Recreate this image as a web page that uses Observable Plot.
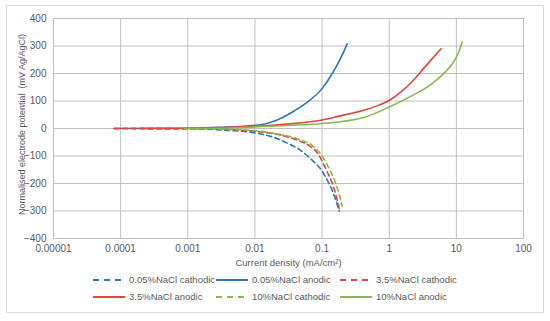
<!DOCTYPE html>
<html><head><meta charset="utf-8">
<script src="https://cdn.jsdelivr.net/npm/d3@7"></script>
<script src="https://cdn.jsdelivr.net/npm/@observablehq/plot@0.6"></script>
<style>
body{margin:0;background:#fff;font-family:"Liberation Sans",Arial,sans-serif;}
#wrap{position:relative;width:550px;height:321px;overflow:hidden;}
#border{position:absolute;left:6px;top:5px;width:536px;height:306px;border:1px solid #d9d9d9;}
#chart{position:absolute;left:0;top:0;}
.leg{position:absolute;display:flex;align-items:center;font-size:9.5px;color:#595959;white-space:nowrap;line-height:12px;}
.leg svg{margin-right:4px;}
</style></head><body>
<div id="wrap"><div id="border"></div><div id="chart"></div><div id="legend"></div></div>
<script>
// Series names and colours
const seriesNames = ["0.05%NaCl cathodic","0.05%NaCl anodic","3.5%NaCl cathodic","3.5%NaCl anodic","10%NaCl cathodic","10%NaCl anodic"];
const seriesColors = ["#2e75b6","#2e75b6","#e0463c","#e0463c","#86b84a","#86b84a"];
const seriesDashed = [true,false,true,false,true,false];

// Current density (mA/cm²) and potential (mV)
const c005X = [0.00008,0.001,0.004,0.01,0.0206,0.032,0.0457,0.064,0.1,0.127,0.155,0.18];
const c005Y = [0,-1,-7,-16,-35,-56,-76,-105,-155,-200,-250,-300];
const a005X = [0.00008,0.001,0.003,0.0117,0.0206,0.0363,0.0574,0.1,0.142,0.2,0.237];
const a005Y = [0,1,4,13,29,60,92,145,200,268,308];
const c35X = [0.00008,0.001,0.004,0.01,0.02,0.0457,0.064,0.0914,0.115,0.142,0.16,0.18];
const c35Y = [0,-1,-4,-10,-20,-45,-62,-100,-150,-200,-240,-293];
const a35X = [0.0002,0.001,0.004,0.01,0.03,0.1,0.179,0.444,0.7,1,1.5,2.18,3.43,5.93];
const a35Y = [0,1,4,8,16,31,45,68,85,102,133,170,225,290];
const c10X = [0.0009,0.004,0.01,0.02,0.0457,0.0717,0.1,0.13,0.16,0.18,0.2];
const c10Y = [0,-3,-8,-18,-40,-62,-100,-150,-200,-240,-282];
const a10X = [0.0009,0.004,0.01,0.03,0.1,0.444,1,2.06,4.3,6.8,9,10.5,12.2];
const a10Y = [0,2,6,11,18,42,78,116,162,205,240,270,314];

// Axis ticks
const xTicks = [0.00001,0.0001,0.001,0.01,0.1,1,10,100];
const xTickLabels = ["0.00001","0.0001","0.001","0.01","0.1","1","10","100"];
const yTicks = [-400,-300,-200,-100,0,100,200,300,400];
const xTitle = "Current density (mA/cm²)";
const yTitle = "Normalised electrode potential  (mV Ag/AgCl)";

const seriesX = [c005X,a005X,c35X,a35X,c10X,a10X];
const seriesY = [c005Y,a005Y,c35Y,a35Y,c10Y,a10Y];
const rows = [];
seriesNames.forEach((n,i)=>seriesX[i].forEach((x,j)=>rows.push({series:n,x,y:seriesY[i][j]})));

const lineMarks = seriesNames.map((n,i)=>Plot.line(rows.filter(r=>r.series===n),{
  x:"x",y:"y",stroke:seriesColors[i],strokeWidth:1.6,
  strokeDasharray:seriesDashed[i]?"5,3.5":null,curve:"monotone-x"}));

const chart = Plot.plot({
  width:550,height:272,
  marginLeft:53,marginRight:27,marginTop:18,marginBottom:34,
  style:{fontFamily:"'Liberation Sans', Arial, sans-serif",fontSize:"10px",color:"#595959",background:"transparent",overflow:"visible"},
  x:{type:"log",domain:[0.00001,100]},
  y:{domain:[-400,400]},
  marks:[
    Plot.gridX(xTicks,{stroke:"#bfbfbf",strokeOpacity:1}),
    Plot.gridY(yTicks,{stroke:"#bfbfbf",strokeOpacity:1}),
    Plot.frame({stroke:"#bfbfbf"}),
    Plot.axisX(xTicks,{tickSize:0,tickPadding:6,tickFormat:(d)=>xTickLabels[xTicks.indexOf(d)],label:null,fontSize:10,fill:"#595959"}),
    Plot.axisY(yTicks,{tickSize:0,tickPadding:7,label:null,fontSize:10,fill:"#595959"}),
    Plot.text([xTitle],{frameAnchor:"bottom",dy:27,fontSize:9.5,fill:"#595959"}),
    Plot.text([yTitle],{frameAnchor:"left",textAnchor:"middle",dx:-31,dy:-4,rotate:-90,fontSize:9,fill:"#595959"}),
    ...lineMarks
  ]
});
document.getElementById("chart").appendChild(chart);

// Legend
const legCols = [93,216,340];
const legRows = [280,297];
const legend = document.getElementById("legend");
seriesNames.forEach((n,i)=>{
  const d = document.createElement("div");
  d.className="leg";
  d.style.left = legCols[i%3]+"px";
  d.style.top = (legRows[Math.floor(i/3)]-6)+"px";
  d.innerHTML = `<svg width="32" height="6"><line x1="0" x2="32" y1="3" y2="3" stroke="${seriesColors[i]}" stroke-width="2" ${seriesDashed[i]?'stroke-dasharray="6,5"':''}/></svg><span>${n}</span>`;
  legend.appendChild(d);
});
</script>
</body></html>
